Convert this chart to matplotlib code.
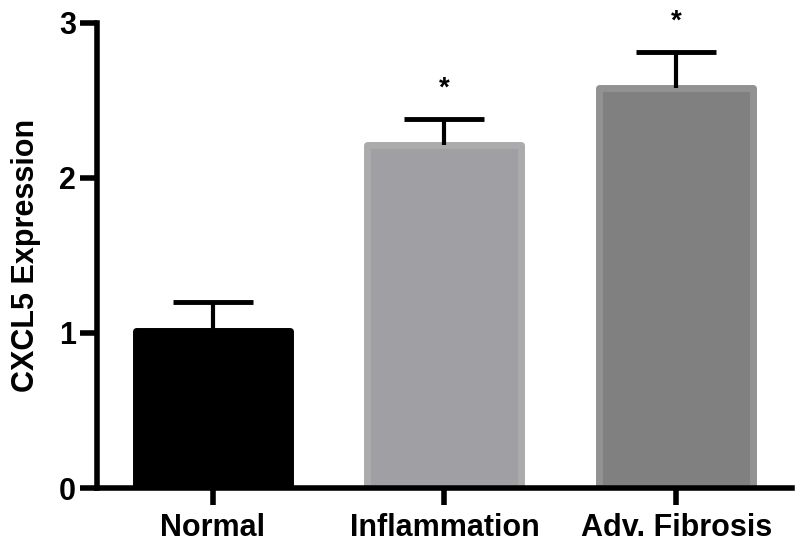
import numpy as np
import matplotlib.pyplot as plt

plt.rcParams['font.family'] = ['Liberation Sans', 'DejaVu Sans']

groups = ['Normal', 'Inflammation', 'Adv. Fibrosis']
means = [1.01, 2.21, 2.58]
sems = [0.19, 0.17, 0.23]
fills = ['#000000', '#a0a0a4', '#808080']
edges = ['#000000', '#ababab', '#929292']
stars = ['', '*', '*']

fig = plt.figure(figsize=(8, 5.42), dpi=100)
ax = fig.add_axes([0.121, 0.0996, 0.869, 0.8586])

x = np.arange(len(groups))
ax.bar(x, means, width=0.665, color=fills, edgecolor=edges, linewidth=5,
       joinstyle='round', zorder=2)

line, caps, bars = ax.errorbar(x, means, yerr=[np.zeros(len(sems)), sems],
                               fmt='none', ecolor='black', elinewidth=3,
                               capsize=29, capthick=3.5, zorder=3)
caps[0].set_visible(False)

for xi, m, s, st in zip(x, means, sems, stars):
    if st:
        ax.text(xi, m + s + 0.15, st, ha='center', va='baseline',
                fontsize=20, fontweight='bold')

ax.set_xlim(-0.5, 2.5)
ax.set_ylim(0, 3)
ax.set_yticks([0, 1, 2, 3])
ax.set_xticks(x)
ax.set_xticklabels(groups)
ax.set_ylabel('CXCL5 Expression', fontsize=22, fontweight='bold')
ax.yaxis.set_label_coords(-0.08, 0.5)

for side in ['top', 'right']:
    ax.spines[side].set_visible(False)
for side in ['left', 'bottom']:
    ax.spines[side].set_linewidth(4)
ax.tick_params(axis='both', width=4, length=12, labelsize=22)
ax.tick_params(axis='y', pad=3)
ax.tick_params(axis='x', pad=6)
for lab in ax.get_xticklabels() + ax.get_yticklabels():
    lab.set_fontweight('bold')

fig.savefig('out.png', dpi=100)
